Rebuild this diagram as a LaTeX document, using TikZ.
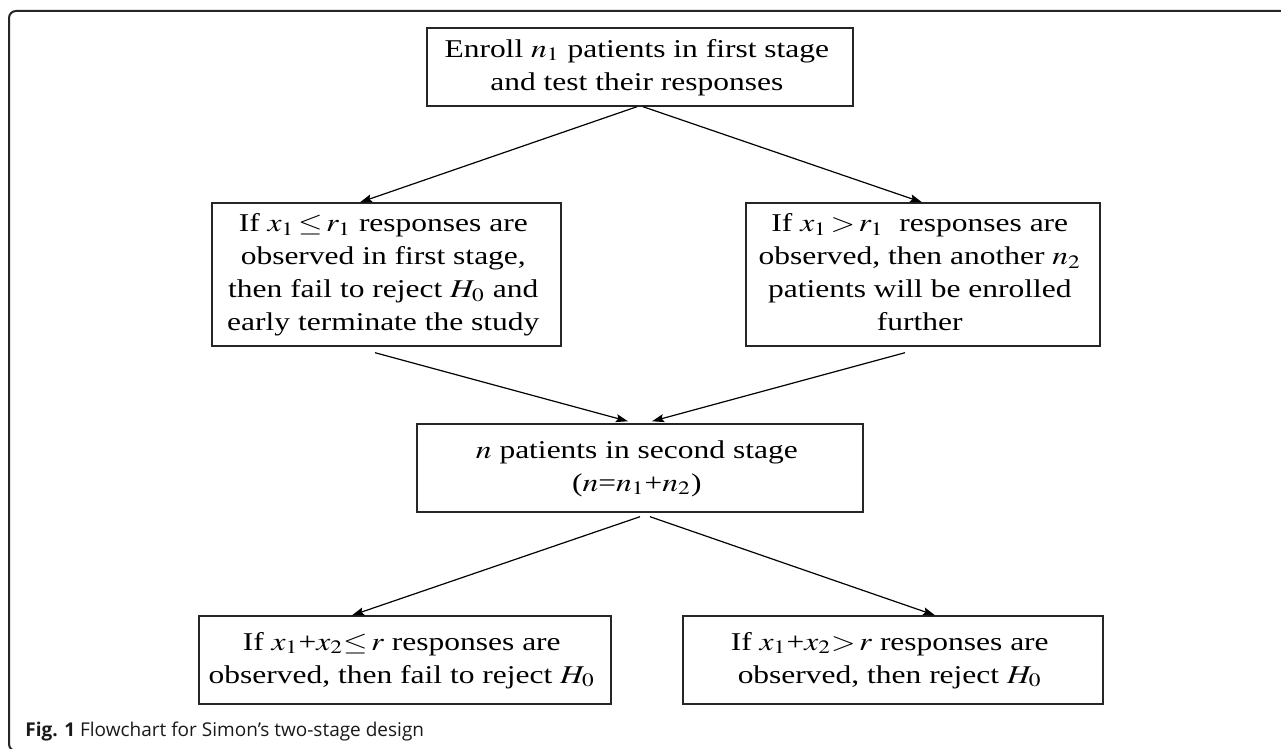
\documentclass[tikz,border=0pt]{standalone}
\usepackage{amsmath,amssymb}
\usepackage{mathptmx}
\usepackage{graphicx}
\usepackage[no-math]{fontspec}
\setmainfont{Liberation Serif}
\newfontfamily\capfont{Open Sans}
\usetikzlibrary{arrows.meta}

% texte étiré comme dans la figure
\newcommand{\boxtext}[1]{\scalebox{1.23}[1]{\begin{tabular}{@{}c@{}}#1\end{tabular}}}

\tikzset{
  box/.style = {draw=black!85, line width=0.7pt, align=center, inner sep=0pt,
                font=\fontsize{12.8}{16.5}\selectfont},
  link/.style = {->, line width=0.6pt}
}

\begin{document}
\begin{tikzpicture}[ x=0.5pt, y=-0.5pt, >={Stealth[length=6pt, width=4pt, inset=1pt]} ]

    \useasboundingbox (0,0) rectangle (1281,749);

% Khung

    \begin{scope}
    \clip (0,0) rectangle (1281,749);
    \draw[line width=1pt, black!85, rounded corners=3.5pt] (1300,11) -- (9,11) -- (9,751) -- (60,751);
    \end{scope}

% Hộp

    \node[box, minimum width=213pt, minimum height=39pt] (enroll) at (640,67)
        { \boxtext{ Enroll $n_1$ patients in first stage \\ and test their responses } };
    \node[box, minimum width=174.5pt, minimum height=71.5pt] (ifless) at (386.5,274.5)
        { \boxtext{ If $x_1\,{\le}\,r_1$ responses are \\ observed in first stage, \\
          then fail to reject $H_0$ and \\ early terminate the study } };
    \node[box, minimum width=177pt, minimum height=71.5pt] (ifmore) at (923,274.5)
        { \boxtext{ If $x_1\,{>}\,r_1$\ \ responses are \\ observed, then another $n_2$ \\
          patients will be enrolled \\ further } };
    \node[box, minimum width=223pt, minimum height=44pt] (second) at (640,468)
        { \boxtext{ $n$ patients in second stage \\ ($n$=$n_1$+$n_2$) } };
    \node[box, minimum width=206pt, minimum height=44pt] (failrej) at (405,660)
        { \boxtext{ If $x_1$+$x_2{\le}\,r$ responses are \\ observed, then fail to reject $H_0$ } };
    \node[box, minimum width=210pt, minimum height=44pt] (reject) at (893,660)
        { \boxtext{ If $x_1$+$x_2{>}\,r$ responses are \\ observed, then reject $H_0$ } };

% Mũi tên

    \draw[link] ([xshift=-1.5pt]enroll.south) -- ([xshift=-13.25pt]ifless.north);
    \draw[link] ([xshift=1.5pt]enroll.south) -- ([xshift=-0.5pt]ifmore.north);
    \draw[link] ([xshift=-5.75pt, yshift=-3pt]ifless.south) -- ([xshift=-6pt, yshift=1pt]second.north);
    \draw[link] ([xshift=-9pt, yshift=-3pt]ifmore.south) -- ([xshift=6pt, yshift=1pt]second.north);
    \draw[link] ([yshift=-2pt]second.south) -- ([xshift=-26.5pt]failrej.north);
    \draw[link] ([xshift=5pt, yshift=-2pt]second.south) -- ([xshift=21pt]reject.north);

% Chú thích

    \node[anchor=base west, inner sep=0pt, text=black!90, font=\capfont\fontsize{9.5}{11}\selectfont]
        (caption) at (25,736) { \textbf{Fig. 1} Flowchart for Simon’s two-stage design };

\end{tikzpicture}
\end{document}
